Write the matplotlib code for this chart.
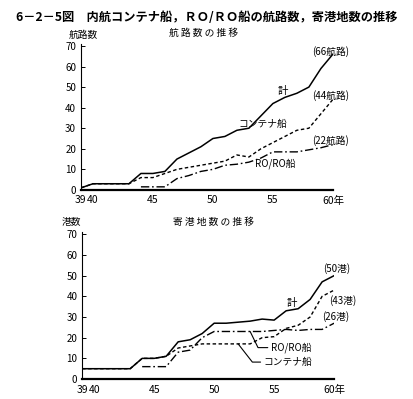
import numpy as np
import matplotlib
matplotlib.use("Agg")
import matplotlib.pyplot as plt

plt.rcParams['font.family'] = ['Noto Sans CJK JP', 'DejaVu Sans']

years = list(range(39, 61))

# 航路数
route_total = [1, 3, 3, 3, 3, 8, 8, 9, 15, 18, 21, 25, 26, 29, 30, 36, 42, 45, 47, 50, 59, 66]
route_cont = [1, 3, 3, 3, 3, 6, 6, 8, 10, 11, 12, 13, 14, 17, 16, 20, 23, 26, 29, 30, 37, 44]
route_roro = [None, None, None, None, None, 1.5, 1.5, 1.5, 5.5, 7, 9, 10, 12, 12.5, 13.5, 15.5, 18.5, 18.5, 18.5, 19.5, 20.5, 22]

# 寄港地数
port_total = [5, 5, 5, 5, 5, 10, 10, 11, 18, 19, 22, 27, 27, 27.5, 28, 29, 28.5, 33, 34, 38.5, 47, 50]
port_cont = [5, 5, 5, 5, 5, 10, 10, 11, 15, 16, 17, 17, 17, 17, 17, 20, 20.5, 24.5, 26, 30, 40, 43]
port_roro = [None, None, None, None, None, 6, 6, 6, 13, 14, 20, 23, 23, 23, 23, 23, 23.5, 24, 23.5, 24, 24, 27]

xtick_pos = [39, 40, 45, 50, 55, 60]
xtick_lab = ['39', '40', '45', '50', '55', '60年']


def arr(v):
    return np.array([np.nan if a is None else a for a in v], dtype=float)


fig = plt.figure(figsize=(4.13, 3.99), dpi=100)

fig.text(0.50, 0.955, '6－2－5図　内航コンテナ船，ＲＯ/ＲＯ船の航路数，寄港地数の推移',
         ha='center', va='center', fontsize=8.8, fontweight='bold')

ax1 = fig.add_axes([0.196, 0.524, 0.610, 0.366])
ax2 = fig.add_axes([0.199, 0.050, 0.610, 0.368])

for ax, tot, cont, roro in [(ax1, route_total, route_cont, route_roro),
                            (ax2, port_total, port_cont, port_roro)]:
    ax.plot(years, arr(tot), color='black', lw=1.1, ls='-')
    ax.plot(years, arr(cont), color='black', lw=1.0, ls=(0, (2.5, 1.8)))
    ax.plot(years, arr(roro), color='black', lw=1.0, ls=(0, (6, 2, 1.2, 2)))
    ax.set_xlim(39, 60)
    ax.set_ylim(0, 71)
    ax.set_yticks(range(0, 71, 10))
    ax.set_xticks(xtick_pos)
    ax.set_xticklabels(xtick_lab)
    ax.spines['top'].set_visible(False)
    ax.spines['right'].set_visible(False)
    ax.spines['left'].set_linewidth(0.8)
    ax.spines['bottom'].set_linewidth(1.6)
    ax.tick_params(axis='y', direction='in', length=3, width=0.7, labelsize=7, pad=3.5)
    ax.tick_params(axis='x', length=0, labelsize=7.5, pad=4)

# 上段ラベル
fig.text(0.494, 0.917, '航 路 数 の 推 移', ha='center', va='center', fontsize=7)
fig.text(0.201, 0.912, '航路数', ha='center', va='center', fontsize=7)
ax1.text(55.8, 48, '計', ha='center', va='center', fontsize=7.5)
ax1.text(54.2, 32, 'コンテナ船', ha='center', va='center', fontsize=7)
ax1.text(55.2, 13, 'RO/RO船', ha='center', va='center', fontsize=7)
ax1.text(59.8, 67.5, '(66航路)', ha='center', va='center', fontsize=7)
ax1.text(59.8, 46, '(44航路)', ha='center', va='center', fontsize=7)
ax1.text(59.8, 24, '(22航路)', ha='center', va='center', fontsize=7)

# 下段ラベル
fig.text(0.518, 0.444, '寄 港 地 数 の 推 移', ha='center', va='center', fontsize=7)
fig.text(0.174, 0.444, '港数', ha='center', va='center', fontsize=7)
ax2.text(56.5, 37, '計', ha='center', va='center', fontsize=7.5)
ax2.text(60.25, 53.6, '(50港)', ha='center', va='center', fontsize=7)
ax2.text(60.7, 38, '(43港)', ha='center', va='center', fontsize=7)
ax2.text(60.1, 30, '(26港)', ha='center', va='center', fontsize=7)
ax2.annotate('RO/RO船', xy=(53, 23), xytext=(54.7, 15.2), ha='left', va='center', fontsize=7,
             arrowprops=dict(arrowstyle='-', lw=0.8, color='black', shrinkA=0, shrinkB=0,
                             connectionstyle='angle,angleA=0,angleB=-64'))
ax2.annotate('コンテナ船', xy=(52, 17), xytext=(54.1, 8.2), ha='left', va='center', fontsize=7,
             arrowprops=dict(arrowstyle='-', lw=0.8, color='black', shrinkA=0, shrinkB=0,
                             connectionstyle='angle,angleA=0,angleB=-52'))

fig.savefig('out.png', dpi=100)
